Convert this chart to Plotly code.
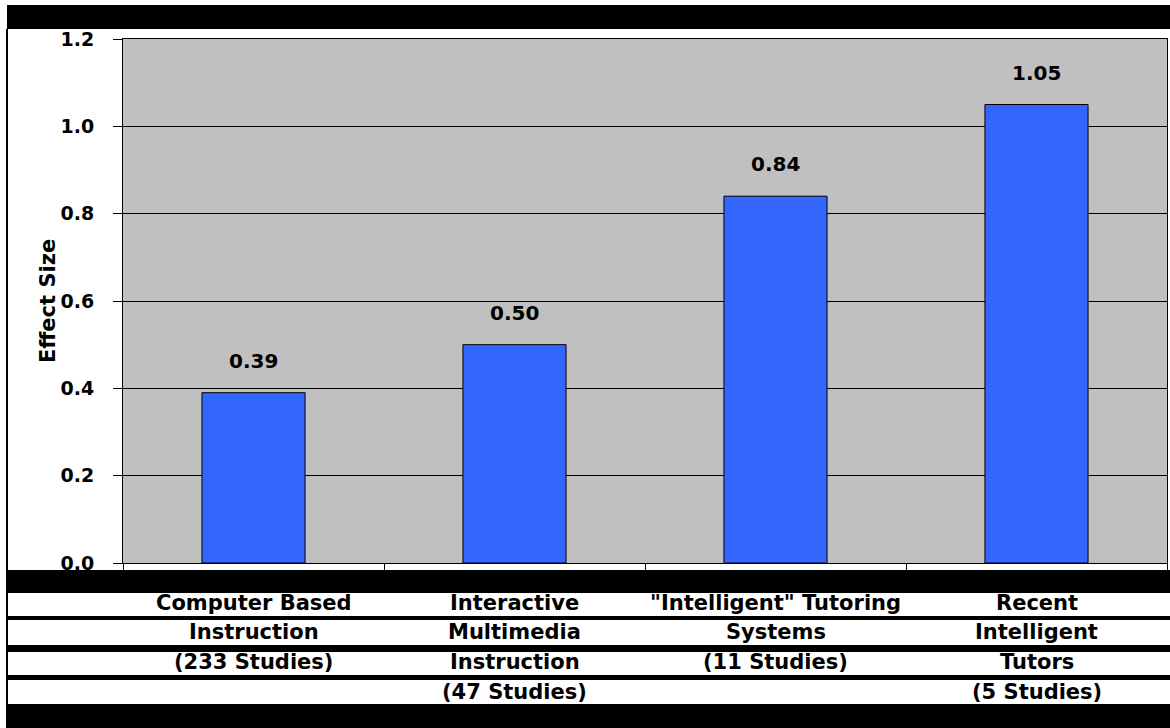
import plotly.graph_objects as go

categories = ["Computer Based<br>Instruction<br>(233 Studies)",
              "Interactive<br>Multimedia<br>Instruction<br>(47 Studies)",
              "\"Intelligent\" Tutoring<br>Systems<br>(11 Studies)",
              "Recent<br>Intelligent<br>Tutors<br>(5 Studies)"]
effect_sizes = [0.39, 0.50, 0.84, 1.05]
value_labels = ["0.39", "0.50", "0.84", "1.05"]
y_ticks = [0.0, 0.2, 0.4, 0.6, 0.8, 1.0, 1.2]

W, H = 1170, 728
L, R, T, B = 123, 3, 39, 165
PW = W - L - R
PH = H - T - B

def px2x(px):
    return (px - L) / PW

def py2y(py):
    return (H - B - py) / PH

FONT = "DejaVu Sans"

fig = go.Figure()
fig.add_trace(go.Bar(
    x=list(range(len(categories))), y=effect_sizes,
    marker=dict(color="#3366FF", line=dict(color="black", width=1)),
    hoverinfo="skip",
))

shapes = []
# black bands
for (y0, y1) in [(5, 29), (570, 593), (616, 620), (645, 652), (675, 680), (704, 728)]:
    shapes.append(dict(type="rect", xref="paper", yref="paper",
                       x0=px2x(7), x1=px2x(1170), y0=py2y(y1), y1=py2y(y0),
                       fillcolor="black", line=dict(width=0), layer="above"))
# left border line
shapes.append(dict(type="line", xref="paper", yref="paper",
                   x0=px2x(7), x1=px2x(7), y0=py2y(728), y1=py2y(29),
                   line=dict(color="black", width=2), layer="above"))

annotations = []
# value labels
for i, (v, lab) in enumerate(zip(effect_sizes, value_labels)):
    annotations.append(dict(x=i, y=v, xref="x", yref="y", text=lab, showarrow=False,
                            yanchor="bottom", yshift=18,
                            font=dict(family=FONT, size=20, color="black", weight="bold")))
# category labels, one line per row
row_centers = [603, 632, 662, 692]
for i, cat in enumerate(categories):
    for j, line in enumerate(cat.split("<br>")):
        annotations.append(dict(x=i, y=py2y(row_centers[j]), xref="x", yref="paper",
                                text=line, showarrow=False, yanchor="middle",
                                font=dict(family=FONT, size=21, color="black", weight="bold")))
# y axis title
annotations.append(dict(x=px2x(34), y=0.5, xref="paper", yref="paper", text="Effect Size",
                        textangle=-90, showarrow=False,
                        font=dict(family=FONT, size=21, color="black", weight="bold")))

fig.update_layout(
    width=W, height=H,
    margin=dict(l=L, r=R, t=T, b=B, pad=0),
    paper_bgcolor="white", plot_bgcolor="#C0C0C0",
    showlegend=False,
    bargap=0.605,
    shapes=shapes, annotations=annotations,
    xaxis=dict(type="linear", range=[-0.5, 3.5], tickvals=[-0.5, 0.5, 1.5, 2.5, 3.5],
               ticktext=["", "", "", "", ""], ticks="outside", ticklen=7, tickcolor="black",
               showgrid=False, showline=True, linecolor="black", linewidth=1, mirror=True,
               zeroline=False, fixedrange=True),
    yaxis=dict(range=[0, 1.2], tickvals=y_ticks, tickformat=".1f", ticks="outside",
               ticklen=9, tickcolor="black", ticklabelstandoff=15,
               tickfont=dict(family=FONT, size=19, color="black", weight="bold"),
               showgrid=True, gridcolor="black", gridwidth=1,
               showline=True, linecolor="black", linewidth=1, mirror=True,
               zeroline=False, fixedrange=True),
)

fig.write_html("out.html", config={"displayModeBar": False})
